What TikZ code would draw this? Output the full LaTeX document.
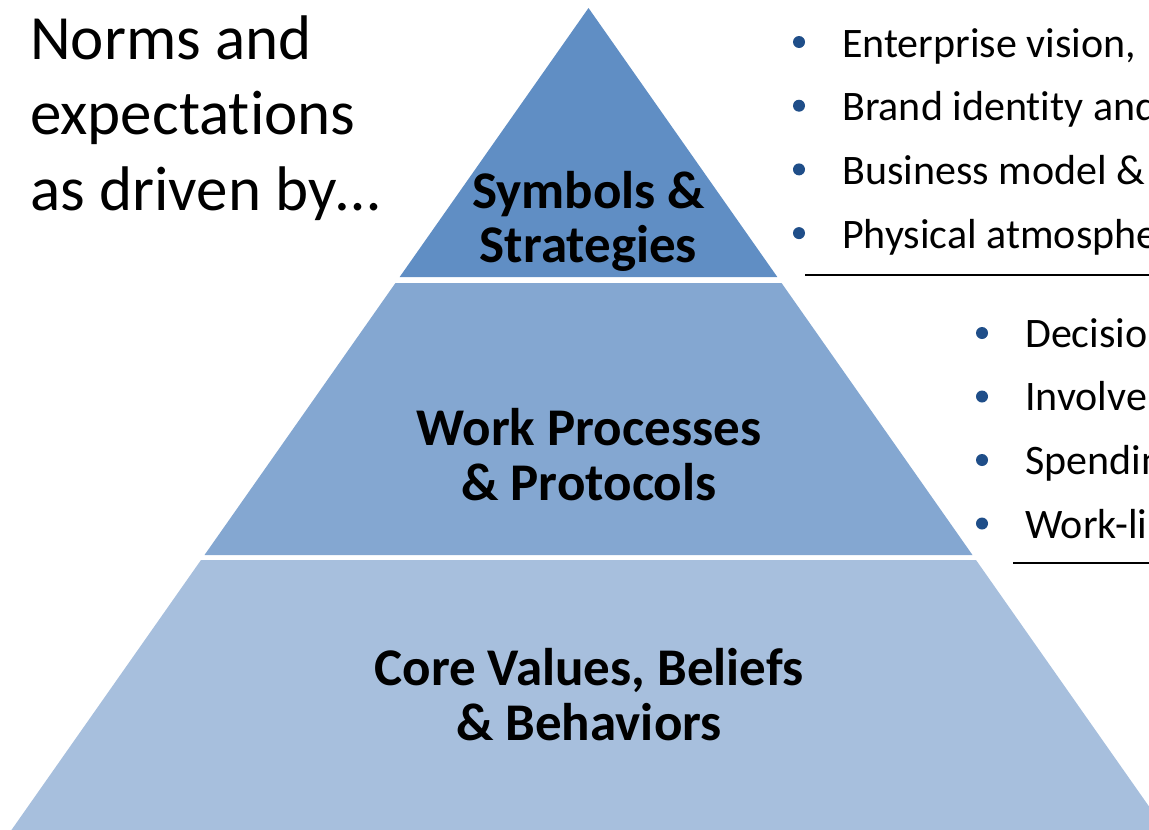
\documentclass[tikz,border=0pt]{standalone}
\usepackage{fontspec}
\setmainfont{Carlito}[Ligatures={NoCommon}]
\usetikzlibrary{positioning}
\definecolor{tiertop}{RGB}{96,142,196}
\definecolor{tiermid}{RGB}{132,167,209}
\definecolor{tierbase}{RGB}{167,191,221}
\definecolor{dotblue}{RGB}{31,78,137}

\begin{document}
\begin{tikzpicture}[x=1pt, y=-1pt,
  tier/.style={font=\fontsize{53}{55}\selectfont\bfseries, anchor=base, inner sep=0pt},
  lead/.style={font=\fontsize{63}{75}\selectfont, anchor=base west, inner sep=0pt},
  item/.style={font=\fontsize{42}{50}\selectfont, anchor=base west, inner sep=0pt},
  dot/.style={circle, fill=dotblue, inner sep=0pt, minimum size=12pt},
  rule/.style={line width=2.5pt}]
\useasboundingbox (0,0) rectangle (1149,830);
\clip (0,0) rectangle (1149,830);

% three bands cut out of one triangle, apex at (588.5,8)
\foreach \ya/\yb/\col in {8/277/tiertop, 283/555/tiermid, 560/830/tierbase}{
  \pgfmathsetmacro\wa{0.702*(\ya-8)}
  \pgfmathsetmacro\wb{0.702*(\yb-8)}
  \fill[\col] (588.5-\wa,\ya) -- (588.5+\wa,\ya) -- (588.5+\wb,\yb) -- (588.5-\wb,\yb) -- cycle;
}

% band labels
\node[tier] (symb) at (588.5,208) {Symbols \&};
\node[tier] (strat) at (588.5,262) {Strategies};
\node[tier] (work) at (589,445) {Work Processes};
\node[tier] (proto) at (589,500) {\& Protocols};
\node[tier] (core) at (589,685) {Core Values, Beliefs};
\node[tier] (behav) at (589,740) {\& Behaviors};

% heading on the left
\node[lead] (norms) at (30,59) {Norms and};
\node[lead] (expect) at (30,134) {expectations};
\node[lead] (driven) at (30,210) {as driven by…};

% first list, next to the top band
\foreach \i/\txt in {0/{Enterprise vision,}, 1/{Brand identity and}, 2/{Business model \&}, 3/{Physical atmosphe}}{
  \node[dot] (ta\i) at (799,{42+63.7*\i}) {};
  \node[item] (tt\i) at (842,{57+63.7*\i}) {\txt};
}
\coordinate (ruleA) at (805,275);
\coordinate (ruleAend) at (1149,275);
\draw[rule] (ruleA) -- (ruleAend);

% second list, next to the middle band
\foreach \i/\txt in {0/Decisio, 1/Involve, 2/Spendin, 3/Work-li}{
  \node[dot] (ma\i) at (982,{333+63.5*\i}) {};
  \node[item] (mt\i) at (1025,{347+63.7*\i}) {\txt};
}
\coordinate (ruleB) at (1013,563);
\coordinate (ruleBend) at (1149,563);
\draw[rule] (ruleB) -- (ruleBend);
\end{tikzpicture}
\end{document}
